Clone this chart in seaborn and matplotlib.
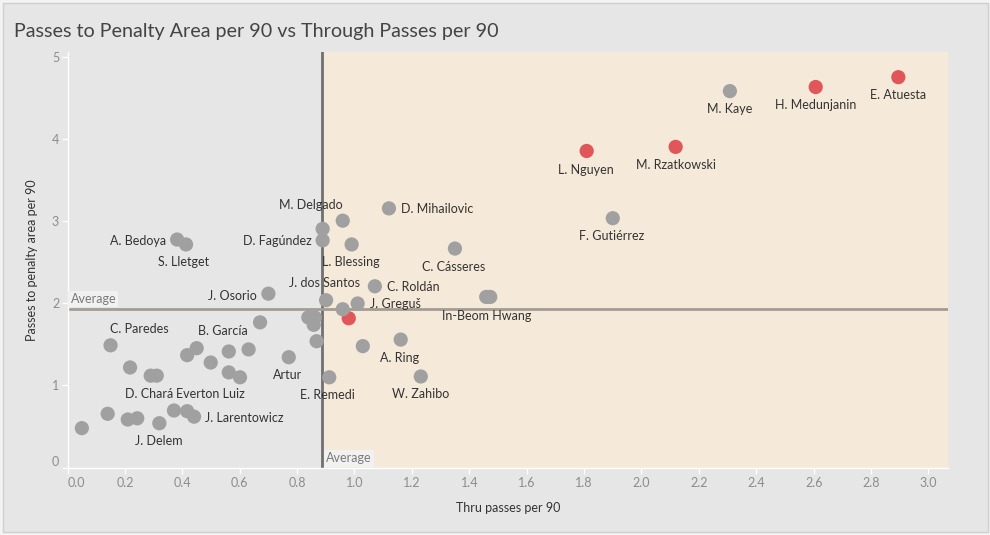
import matplotlib
matplotlib.use("Agg")
import matplotlib.pyplot as plt
import seaborn as sns
import pandas as pd
from matplotlib.patches import Rectangle

# ---------------- data ----------------
players = [
    "E. Atuesta", "H. Medunjanin", "M. Rzatkowski", "L. Nguyen", "",
    "M. Kaye", "F. Gutiérrez", "D. Mihailovic", "C. Cásseres", "In-Beom Hwang", "",
    "C. Roldán", "J. Greguš", "", "J. dos Santos", "L. Blessing", "M. Delgado", "",
    "D. Fagúndez", "", "", "", "", "", "A. Ring", "E. Remedi", "W. Zahibo", "Artur",
    "", "J. Osorio", "A. Bedoya", "S. Lletget",
    "C. Paredes", "", "D. Chará", "", "", "", "Everton Luiz", "B. García", "", "", "",
    "", "", "", "J. Delem", "", "", "J. Larentowicz", "",
]
thru_passes = [
    2.895, 2.607, 2.119, 1.809, 0.980,
    2.308, 1.900, 1.120, 1.350, 1.459, 1.473,
    1.071, 1.011, 0.959, 0.901, 0.990, 0.959, 0.889,
    0.889, 0.839, 0.862, 0.858, 0.868, 1.029, 1.161, 0.912, 1.231, 0.771,
    0.671, 0.700, 0.382, 0.413,
    0.150, 0.218, 0.290, 0.311, 0.417, 0.450, 0.499, 0.562, 0.631, 0.562, 0.601,
    0.140, 0.210, 0.243, 0.320, 0.371, 0.417, 0.441, 0.050,
]
pen_area_passes = [
    4.76, 4.64, 3.91, 3.86, 1.82,
    4.59, 3.04, 3.16, 2.67, 2.08, 2.08,
    2.21, 2.00, 1.93, 2.04, 2.72, 3.01, 2.91,
    2.77, 1.83, 1.83, 1.74, 1.54, 1.48, 1.56, 1.10, 1.11, 1.345,
    1.77, 2.12, 2.78, 2.72,
    1.49, 1.22, 1.12, 1.12, 1.37, 1.455, 1.28, 1.415, 1.44, 1.16, 1.10,
    0.655, 0.585, 0.60, 0.54, 0.695, 0.687, 0.62, 0.48,
]
group = ["Highlighted"] * 5 + ["Other"] * (len(players) - 5)

avg_thru = 0.888
avg_pen = 1.93
x_ticks = [0.0, 0.2, 0.4, 0.6, 0.8, 1.0, 1.2, 1.4, 1.6, 1.8, 2.0, 2.2, 2.4, 2.6, 2.8, 3.0]
y_ticks = [0, 1, 2, 3, 4, 5]

title = "Passes to Penalty Area per 90 vs Through Passes per 90"
x_title = "Thru passes per 90"
y_title = "Passes to penalty area per 90"

df = pd.DataFrame({"player": players, "thru": thru_passes,
                   "pen": pen_area_passes, "group": group})

# label offsets (pixels, up positive) and alignment
label_style = {
    "E. Atuesta": (0, -18, "center"), "H. Medunjanin": (0, -18, "center"),
    "M. Kaye": (0, -18, "center"), "L. Nguyen": (-1, -19, "center"),
    "M. Rzatkowski": (0, -18, "center"), "F. Gutiérrez": (-1, -18, "center"),
    "D. Mihailovic": (12, -1, "left"), "C. Cásseres": (-1, -18, "center"),
    "In-Beom Hwang": (0, -19, "center"), "C. Roldán": (12, -1, "left"),
    "J. Greguš": (12, -1, "left"), "L. Blessing": (-1, -18, "center"),
    "J. dos Santos": (-2, 17, "center"), "M. Delgado": (0, 16, "right"),
    "D. Fagúndez": (-11, -1, "right"), "A. Bedoya": (-11, -1, "right"),
    "S. Lletget": (-2, -18, "center"), "J. Osorio": (-12, -2, "right"),
    "C. Paredes": (29, 16, "center"), "B. García": (-6, 20, "center"),
    "Artur": (-1, -18, "center"), "E. Remedi": (-2, -18, "center"),
    "A. Ring": (-1, -18, "center"), "W. Zahibo": (0, -18, "center"),
    "D. Chará": (-2, -18, "center"), "Everton Luiz": (0, -31, "center"),
    "J. Larentowicz": (11, -1, "left"), "J. Delem": (-1, -18, "center"),
}

# ---------------- style ----------------
sns.set_theme(style="white")
plt.rcParams["font.family"] = ["Lato", "DejaVu Sans"]

BG = "#E6E6E6"
CREAM = "#F5EAD9"
fig = plt.figure(figsize=(9.9, 5.35), dpi=100)
fig.patch.set_facecolor("#F3F3F3")
fig.patches.append(Rectangle((3 / 990, 3 / 535), 985 / 990, 529 / 535,
                             transform=fig.transFigure, facecolor=BG,
                             edgecolor="#CFCFCF", linewidth=1, zorder=-10))

ax = fig.add_axes([67.5 / 990, (535 - 467.5) / 535, (948 - 67.5) / 990, (467.5 - 52) / 535])
ax.set_zorder(1)
ax.set_facecolor(BG)
xmax = 3.068
ymax = 5.067
ax.axvspan(avg_thru, xmax, color=CREAM, zorder=0, lw=0)

sns.scatterplot(data=df, x="thru", y="pen", hue="group",
                palette={"Highlighted": "#E15759", "Other": "#A0A0A0"},
                s=105, linewidth=0, alpha=1, legend=False, ax=ax, zorder=3)

ax.axvline(avg_thru, color="#707070", lw=2, zorder=2)
ax.axhline(avg_pen, color="#A39C93", lw=2, zorder=2)

for name, xv, yv in zip(players, thru_passes, pen_area_passes):
    if not name:
        continue
    dx, dy, ha = label_style[name]
    ax.annotate(name, (xv, yv), xytext=(dx, dy), textcoords="offset pixels",
                ha=ha, va="center", fontsize=9, color="#333333", zorder=4)

box = dict(facecolor="#F1F1F1", edgecolor="none", pad=1.5)
ax.annotate("Average", (0, avg_pen), xytext=(3, 4), textcoords="offset pixels",
            ha="left", va="bottom", fontsize=9, color="#7A7A7A", bbox=box, zorder=5)
ax.annotate("Average", (avg_thru, 0), xytext=(4, 3), textcoords="offset pixels",
            ha="left", va="bottom", fontsize=9, color="#7A7A7A", bbox=box, zorder=5)

ax.set_xlim(0, xmax)
ax.set_ylim(0, ymax)
ax.set_xticks(x_ticks)
ax.set_xticklabels([f"{t:.1f}" for t in x_ticks])
ax.set_yticks(y_ticks)
ax.set_yticklabels([str(t) for t in y_ticks])
ax.tick_params(axis="both", colors="#FFFFFF", labelcolor="#8C8C8C",
               labelsize=9, length=4, width=1, direction="out", bottom=True, left=True)
ax.tick_params(axis="x", pad=3)
ax.tick_params(axis="y", pad=2)
ax.get_xticklabels()[0].set_horizontalalignment("left")
ax.get_yticklabels()[0].set_verticalalignment("bottom")
for side in ["top", "right"]:
    ax.spines[side].set_visible(False)
for side in ["left", "bottom"]:
    ax.spines[side].set_color("#FFFFFF")
    ax.spines[side].set_linewidth(1)
ax.set_xlabel(x_title, fontsize=9, color="#333333", labelpad=9)
ax.set_ylabel(y_title, fontsize=9, color="#333333", labelpad=10)

fig.text(14 / 990, 1 - 31 / 535, title, fontsize=14.2, color="#444444",
         ha="left", va="center")

fig.savefig("out.png", dpi=100, facecolor=fig.get_facecolor())
